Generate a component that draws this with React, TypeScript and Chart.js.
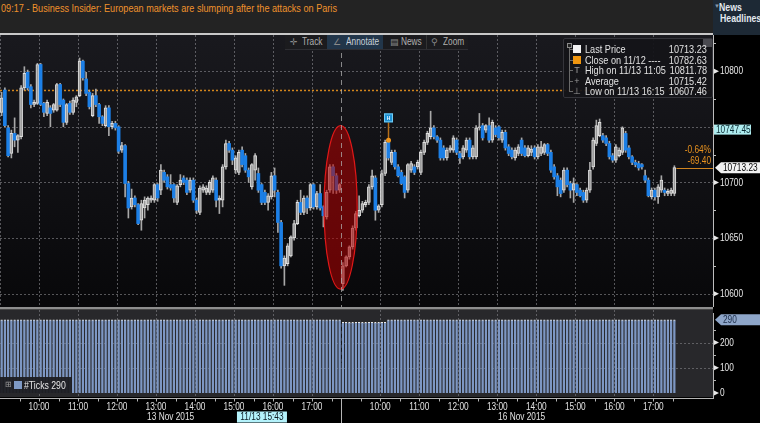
import React, { useEffect, useRef } from 'react';
import { Chart, registerables } from 'chart.js';

Chart.register(...registerables);

const FONT = '"Liberation Sans", Arial, sans-serif';
const NARROW = 0.83; // horizontal compression to mimic a narrow terminal font

// ---------------- data (5-minute candles) ----------------
const d1Open = [
  10763, 10783, 10749, 10726, 10744, 10738, 10741, 10785, 10799, 10786,
  10770, 10771, 10806, 10771, 10762, 10767, 10765, 10765, 10788, 10774,
  10754, 10771, 10763, 10772, 10778, 10809, 10793, 10781, 10760, 10778,
  10770, 10759, 10751, 10767, 10750, 10753, 10750, 10729, 10733, 10699,
  10678, 10686, 10680, 10666, 10677, 10680, 10684, 10684, 10698, 10693,
  10709, 10705, 10698, 10698, 10682, 10698, 10704, 10702, 10693, 10702,
  10684, 10673, 10693, 10691, 10691, 10693, 10702, 10684, 10684, 10714,
  10735, 10729, 10711, 10709, 10729, 10724, 10711, 10696, 10711, 10708,
  10698, 10691, 10682, 10687, 10706, 10691, 10664, 10625, 10627, 10634,
  10650, 10663, 10682, 10673, 10686, 10677, 10698, 10678, 10690, 10678,
  10669, 10693, 10714, 10706, 10693,
];
const d1High = [
  10781, 10785, 10751, 10747, 10758, 10743, 10787, 10804, 10801, 10788,
  10774, 10807, 10807, 10772, 10774, 10769, 10771, 10789, 10789, 10775,
  10771, 10773, 10776, 10778, 10811.78, 10810, 10799, 10783, 10780, 10784,
  10771, 10760, 10769, 10769, 10755, 10755, 10751, 10736, 10734, 10701,
  10694, 10688, 10681, 10684, 10687, 10687, 10688, 10699, 10699, 10716,
  10711, 10707, 10707, 10699, 10698, 10707, 10706, 10704, 10704, 10704,
  10686, 10697, 10698, 10697, 10702, 10706, 10704, 10688, 10716, 10738,
  10737, 10731, 10724, 10729, 10732, 10726, 10713, 10717, 10726, 10713,
  10699, 10693, 10690, 10709, 10713, 10693, 10666, 10634, 10645, 10652,
  10666, 10684, 10693, 10688, 10688, 10699, 10699, 10692, 10698, 10679,
  10693, 10716, 10716, 10708, 10699,
];
const d1Low = [
  10760, 10750, 10723, 10722, 10732, 10727, 10739, 10783, 10783, 10767,
  10768, 10770, 10769, 10759, 10760, 10750, 10763, 10764, 10768, 10750,
  10752, 10761, 10761, 10768, 10777, 10792, 10778, 10766, 10759, 10768,
  10753, 10751, 10750, 10742, 10748, 10747, 10726, 10727, 10687, 10668,
  10676, 10678, 10662, 10657, 10668, 10675, 10682, 10682, 10683, 10689,
  10700, 10694, 10693, 10682, 10680, 10696, 10698, 10689, 10691, 10682,
  10672, 10671, 10691, 10689, 10689, 10691, 10678, 10672, 10678, 10712,
  10727, 10716, 10708, 10707, 10714, 10709, 10700, 10694, 10702, 10691,
  10680, 10680, 10675, 10685, 10687, 10655, 10623, 10607.46, 10625, 10633,
  10648, 10662, 10671, 10671, 10672, 10675, 10676, 10676, 10675, 10660,
  10667, 10691, 10690, 10690, 10691,
];
const d1Close = [
  10776, 10751, 10724, 10744, 10738, 10742, 10785, 10798, 10785, 10770,
  10772, 10806, 10770, 10763, 10772, 10762, 10770, 10788, 10770, 10754,
  10770, 10763, 10774, 10777, 10809, 10794, 10780, 10768, 10778, 10770,
  10759, 10753, 10767, 10750, 10753, 10749, 10728, 10733, 10699, 10677,
  10686, 10680, 10663, 10681, 10684, 10686, 10686, 10698, 10686, 10711,
  10702, 10696, 10695, 10686, 10697, 10702, 10700, 10691, 10702, 10684,
  10675, 10695, 10696, 10695, 10700, 10704, 10684, 10686, 10714, 10735,
  10729, 10720, 10722, 10727, 10716, 10711, 10705, 10716, 10724, 10693,
  10682, 10682, 10688, 10706, 10693, 10664, 10625, 10632, 10643, 10651,
  10663, 10682, 10673, 10686, 10677, 10698, 10678, 10690, 10677, 10670,
  10691, 10714, 10706, 10693, 10698,
];

const d2Open = [
  10609, 10625, 10633, 10642, 10659, 10670, 10675, 10680, 10682, 10696,
  10704, 10675, 10680, 10708, 10736, 10718, 10727, 10714, 10709, 10705,
  10693, 10711, 10714, 10714, 10709, 10727, 10736, 10741, 10749, 10741,
  10738, 10731, 10722, 10729, 10729, 10738, 10726, 10723, 10729, 10738,
  10723, 10723, 10749, 10751, 10747, 10751, 10738, 10749, 10750, 10738,
  10745, 10732, 10729, 10722, 10726, 10738, 10731, 10724, 10727, 10731,
  10723, 10726, 10727, 10734, 10727, 10714, 10706, 10702, 10693, 10711,
  10699, 10693, 10698, 10693, 10691, 10684, 10693, 10714, 10735, 10742,
  10742, 10740, 10735, 10724, 10720, 10724, 10727, 10744, 10731, 10723,
  10718, 10717, 10716, 10706, 10702, 10687, 10693, 10687, 10693, 10693,
  10690, 10690, 10690,
];
const d2High = [
  10628, 10634, 10643, 10661, 10674, 10688, 10683, 10684, 10698, 10711,
  10706, 10680, 10711, 10738, 10738, 10729, 10729, 10716, 10711, 10706,
  10717, 10719, 10716, 10720, 10729, 10738, 10746, 10764, 10751, 10742,
  10740, 10733, 10731, 10733, 10742, 10740, 10728, 10733, 10740, 10740,
  10733, 10751, 10762, 10753, 10752, 10758, 10756, 10751, 10751, 10747,
  10747, 10734, 10731, 10731, 10734, 10740, 10733, 10733, 10733, 10733,
  10734, 10737, 10735, 10735, 10729, 10716, 10708, 10704, 10713, 10713,
  10701, 10704, 10699, 10695, 10693, 10695, 10718, 10740, 10756, 10757,
  10744, 10742, 10737, 10726, 10734, 10731, 10750, 10746, 10733, 10724,
  10720, 10719, 10717, 10711, 10704, 10695, 10695, 10698, 10706, 10695,
  10694, 10695, 10715,
];
const d2Low = [
  10603, 10624, 10631, 10640, 10657, 10669, 10673, 10678, 10680, 10694,
  10666, 10673, 10678, 10706, 10720, 10716, 10712, 10705, 10698, 10686,
  10691, 10709, 10707, 10712, 10707, 10725, 10734, 10739, 10739, 10736,
  10720, 10720, 10720, 10727, 10727, 10725, 10717, 10721, 10727, 10721,
  10721, 10721, 10747, 10738, 10745, 10736, 10736, 10741, 10738, 10736,
  10729, 10724, 10721, 10720, 10724, 10724, 10723, 10723, 10724, 10721,
  10721, 10724, 10725, 10724, 10709, 10703, 10688, 10687, 10691, 10696,
  10686, 10682, 10688, 10687, 10682, 10682, 10691, 10712, 10733, 10741,
  10736, 10733, 10721, 10718, 10718, 10723, 10725, 10727, 10721, 10716,
  10714, 10711, 10712, 10700, 10687, 10685, 10684, 10681, 10691, 10688,
  10688, 10688, 10688,
];
const d2Close = [
  10625, 10633, 10642, 10659, 10672, 10675, 10681, 10682, 10696, 10706,
  10675, 10679, 10708, 10736, 10722, 10727, 10714, 10706, 10699, 10691,
  10716, 10717, 10709, 10718, 10727, 10736, 10744, 10749, 10741, 10738,
  10722, 10722, 10729, 10731, 10740, 10727, 10722, 10731, 10738, 10723,
  10731, 10749, 10750, 10740, 10751, 10738, 10754, 10743, 10740, 10745,
  10731, 10726, 10723, 10729, 10732, 10726, 10724, 10731, 10730, 10723,
  10732, 10732, 10734, 10726, 10711, 10705, 10696, 10690, 10711, 10698,
  10693, 10699, 10691, 10688, 10684, 10693, 10711, 10738, 10751, 10754,
  10738, 10735, 10723, 10720, 10732, 10729, 10749, 10729, 10723, 10718,
  10716, 10713, 10714, 10702, 10688, 10693, 10687, 10696, 10702, 10691,
  10692, 10693, 10713.23,
];

// number of ticks per 5-minute bar
const d1Ticks = [
  290, 290, 290, 290, 290, 290, 290, 290, 290, 290, 290, 290, 290, 290, 290,
  290, 290, 290, 290, 290, 290, 290, 290, 290, 290, 290, 290, 290, 290, 290,
  290, 290, 290, 290, 290, 290, 290, 290, 290, 290, 290, 290, 290, 290, 290,
  290, 290, 290, 290, 290, 290, 290, 290, 290, 290, 290, 290, 290, 290, 290,
  290, 290, 290, 290, 290, 290, 290, 290, 290, 290, 290, 290, 290, 290, 290,
  290, 290, 290, 290, 290, 290, 290, 290, 290, 290, 290, 290, 290, 290, 290,
  290, 290, 290, 290, 290, 290, 290, 290, 290, 290, 290, 290, 290, 290, 290,
];
const d2Ticks = [
  280, 280, 280, 280, 280, 280, 280, 280, 280, 280, 280, 280, 280, 280, 290,
  290, 290, 290, 290, 290, 290, 290, 290, 290, 290, 290, 290, 290, 290, 290,
  290, 290, 290, 290, 290, 290, 290, 290, 290, 290, 290, 290, 290, 290, 290,
  290, 290, 290, 290, 290, 290, 290, 290, 290, 290, 290, 290, 290, 290, 290,
  290, 290, 290, 290, 290, 290, 290, 290, 290, 290, 290, 290, 290, 290, 290,
  290, 290, 290, 290, 290, 290, 290, 290, 290, 290, 290, 290, 290, 290, 290,
  290, 290, 290, 290, 290, 290, 290, 290, 290, 290, 290, 290, 290,
];

// ---------------- axis / labels ----------------
const SLOTS_PER_HOUR = 12;
const sessionStartSlots = [-0.5, 104.5]; // 09:00 of each trading day
const day2FirstSlot = 105;
const slotMin = -0.5;
const slotMax = 218.88;
const hourLabels = ['10:00', '11:00', '12:00', '13:00', '14:00', '15:00', '16:00', '17:00'];
const dateLabels = ['13 Nov 2015', '16 Nov 2015'];
const dateLabelSlots = [52, 160];
const crosshairLabel = '11/13 15:43';
const crosshairSlot = 80.1;

const priceMin = 10588;
const priceMax = 10832.5;
const priceGrid = [10600, 10650, 10700, 10750, 10800];
const priceLabels = [10600, 10650, 10700, 10800];
const priceMinor = [10600, 10625, 10650, 10675, 10700, 10725, 10750, 10775, 10800, 10825];
const prevClose = 10782.63;
const lastPrice = 10713.23;
const markerPrice = 10747.45;
const changePct = '-0.64%';
const changeAbs = '-69.40';

const tickMin = -16;
const tickMax = 329;
const tickLabels = [0, 100, 200];
const tickMinor = [50, 150, 250];
const lastTicks = 290;

const ellipseSlot = 104.3;
const ellipseHalfSlots = 5.1;
const ellipseTop = 10751;
const ellipseBottom = 10604;
const flagSlot = 119;
const flagTop = 10762;
const flagBottom = 10754;
const flagDot = 10738;

const headline = '09:17 - Business Insider: European markets are slumping after the attacks on Paris';
const legendLabels = ['Last Price', 'Close on 11/12 ----', 'High on 11/13 11:05', 'Average', 'Low on 11/13 16:15'];
const legendValues = ['10713.23', '10782.63', '10811.78', '10715.42', '10607.46'];
const ticksLegend = '#Ticks 290';
const toolbarItems = ['Track', 'Annotate', 'News', 'Zoom'];

// ---------------- helpers ----------------
type Candle = { s: number; o: number; h: number; l: number; c: number };

function buildCandles(): Candle[] {
  const out: Candle[] = [];
  d1Open.forEach((o, i) => out.push({ s: i, o, h: d1High[i], l: d1Low[i], c: d1Close[i] }));
  d2Open.forEach((o, i) => out.push({ s: day2FirstSlot + i, o, h: d2High[i], l: d2Low[i], c: d2Close[i] }));
  return out;
}

const hourSlots: number[] = [];
sessionStartSlots.forEach((s) => hourLabels.forEach((_, k) => hourSlots.push(s + SLOTS_PER_HOUR * (k + 1))));

function hline(ctx: any, x1: number, x2: number, y: number) {
  ctx.beginPath(); ctx.moveTo(x1, y); ctx.lineTo(x2, y); ctx.stroke();
}
function vline(ctx: any, x: number, y1: number, y2: number) {
  ctx.beginPath(); ctx.moveTo(x, y1); ctx.lineTo(x, y2); ctx.stroke();
}
function tri(ctx: any, x: number, y: number) {
  ctx.beginPath(); ctx.moveTo(x, y - 2.5); ctx.lineTo(x + 5, y); ctx.lineTo(x, y + 2.5); ctx.closePath(); ctx.fill();
}
function ntext(ctx: any, text: string, x: number, y: number, align: string) {
  ctx.save();
  ctx.translate(x, y);
  ctx.scale(NARROW, 1);
  ctx.textAlign = align;
  ctx.textBaseline = 'middle';
  ctx.fillText(text, 0, 0);
  ctx.restore();
}

const pricePlugin = {
  id: 'priceDeco',
  beforeDatasetsDraw(chart: any) {
    const { ctx, chartArea: a } = chart;
    const xs = chart.scales.x, ys = chart.scales.y;
    ctx.save();
    const g = ctx.createLinearGradient(0, a.top, 0, a.bottom);
    g.addColorStop(0, '#19191e');
    g.addColorStop(1, '#08080a');
    ctx.fillStyle = g;
    ctx.fillRect(a.left, a.top, a.right - a.left, a.bottom - a.top);
    ctx.lineWidth = 1;
    ctx.strokeStyle = 'rgba(150,150,155,0.55)';
    ctx.setLineDash([2, 2]);
    priceGrid.forEach((v) => hline(ctx, a.left, a.right, Math.round(ys.getPixelForValue(v)) + 0.5));
    [sessionStartSlots[0], ...hourSlots].forEach((s) => vline(ctx, Math.round(xs.getPixelForValue(s)) + 0.5, a.top, a.bottom));
    ctx.strokeStyle = '#d4861c';
    ctx.lineWidth = 1.5;
    hline(ctx, a.left, a.right, ys.getPixelForValue(prevClose));
    ctx.restore();
  },
  afterDatasetsDraw(chart: any) {
    const { ctx, chartArea: a } = chart;
    const xs = chart.scales.x, ys = chart.scales.y;
    ctx.save();
    // red ellipse
    const ex = xs.getPixelForValue(ellipseSlot);
    const erx = xs.getPixelForValue(ellipseSlot + ellipseHalfSlots) - ex;
    const et = ys.getPixelForValue(ellipseTop), eb = ys.getPixelForValue(ellipseBottom);
    ctx.beginPath();
    ctx.ellipse(ex, (et + eb) / 2, erx, (eb - et) / 2, 0, 0, Math.PI * 2);
    ctx.fillStyle = 'rgba(178,0,0,0.55)';
    ctx.fill();
    ctx.strokeStyle = '#e01818';
    ctx.lineWidth = 1.2;
    ctx.stroke();
    // session separator
    ctx.setLineDash([5, 4]);
    ctx.strokeStyle = 'rgba(175,175,175,0.75)';
    ctx.lineWidth = 1;
    vline(ctx, Math.round(xs.getPixelForValue(sessionStartSlots[1])) + 0.5, a.top, a.bottom);
    ctx.setLineDash([]);
    // flag
    const fx = Math.round(xs.getPixelForValue(flagSlot)) + 0.5;
    const ft = ys.getPixelForValue(flagTop), fb = ys.getPixelForValue(flagBottom), fd = ys.getPixelForValue(flagDot);
    ctx.strokeStyle = '#b56f1a';
    ctx.lineWidth = 1.5;
    vline(ctx, fx, fb, fd);
    ctx.fillStyle = '#f0961e';
    ctx.beginPath(); ctx.arc(fx, fd, 2.5, 0, Math.PI * 2); ctx.fill();
    ctx.fillStyle = '#1d8fd2';
    ctx.fillRect(fx - 4.5, ft, 9, fb - ft);
    ctx.strokeStyle = '#74cdf4';
    ctx.lineWidth = 1;
    ctx.strokeRect(fx - 4, ft + 0.5, 8, fb - ft - 1);
    ctx.fillStyle = '#e8f6ff';
    ctx.font = `bold 6px ${FONT}`;
    ntext(ctx, 'H', fx, (ft + fb) / 2 + 0.5, 'center');
    // last price line + change
    const ly = ys.getPixelForValue(lastPrice);
    const lastSlot = day2FirstSlot + d2Close.length - 1;
    ctx.strokeStyle = '#cf8420';
    hline(ctx, xs.getPixelForValue(lastSlot) + 2, a.right, Math.round(ly) + 0.5);
    ctx.fillStyle = '#e8921f';
    ctx.font = `10px ${FONT}`;
    ntext(ctx, changePct, a.right - 2, ly - 17, 'right');
    ntext(ctx, changeAbs, a.right - 2, ly - 6, 'right');
    // axis
    ctx.strokeStyle = '#bdbdbd';
    vline(ctx, a.right + 0.5, a.top, a.bottom);
    priceMinor.forEach((v) => hline(ctx, a.right, a.right + 3, Math.round(ys.getPixelForValue(v)) + 0.5));
    ctx.fillStyle = '#e8e8e8';
    priceLabels.forEach((v) => {
      const y = ys.getPixelForValue(v);
      tri(ctx, a.right + 1, y);
      ntext(ctx, String(v), a.right + 7, y + 0.5, 'left');
    });
    // marker label
    const my = ys.getPixelForValue(markerPrice);
    ctx.fillStyle = '#aeecef';
    ctx.fillRect(a.right + 1, my - 5, 37, 10);
    ctx.fillStyle = '#0b2b33';
    ntext(ctx, markerPrice.toFixed(2), a.right + 3, my + 0.5, 'left');
    // last price label
    ctx.fillStyle = '#f2f2f2';
    ctx.beginPath();
    ctx.moveTo(a.right + 2, ly);
    ctx.lineTo(a.right + 8, ly - 5.5);
    ctx.lineTo(chart.width, ly - 5.5);
    ctx.lineTo(chart.width, ly + 5.5);
    ctx.lineTo(a.right + 8, ly + 5.5);
    ctx.closePath();
    ctx.fill();
    ctx.fillStyle = '#000';
    ntext(ctx, lastPrice.toFixed(2), a.right + 10, ly + 0.5, 'left');
    ctx.restore();
  },
};

const ticksPlugin = {
  id: 'ticksDeco',
  beforeDatasetsDraw(chart: any) {
    const { ctx, chartArea: a } = chart;
    const xs = chart.scales.x, ys = chart.scales.y;
    ctx.save();
    ctx.fillStyle = '#8e8e8e';
    ctx.fillRect(0, 0, a.right, 2.5);
    ctx.fillStyle = '#28282b';
    ctx.fillRect(a.left, a.top, a.right - a.left, a.bottom - a.top);
    ctx.lineWidth = 1;
    ctx.strokeStyle = 'rgba(150,150,155,0.5)';
    ctx.setLineDash([2, 2]);
    tickLabels.slice(1).forEach((v) => hline(ctx, a.left, a.right, Math.round(ys.getPixelForValue(v)) + 0.5));
    hourSlots.forEach((s) => vline(ctx, Math.round(xs.getPixelForValue(s)) + 0.5, a.top, a.bottom));
    ctx.restore();
  },
  afterDatasetsDraw(chart: any) {
    const { ctx, chartArea: a } = chart;
    const xs = chart.scales.x, ys = chart.scales.y;
    ctx.save();
    ctx.lineWidth = 1;
    // separator over bars
    const sx = Math.round(xs.getPixelForValue(sessionStartSlots[1])) + 0.5;
    ctx.setLineDash([4, 3]);
    ctx.strokeStyle = '#151515';
    vline(ctx, sx, ys.getPixelForValue(lastTicks), ys.getPixelForValue(120));
    ctx.setLineDash([]);
    // axis bottom line
    const axisY = a.bottom + 1.5;
    ctx.strokeStyle = '#b4b4b4';
    hline(ctx, 0, a.right + 1, axisY);
    vline(ctx, a.right + 0.5, a.top + 3, axisY);
    vline(ctx, sx, axisY, chart.height);
    // small time ticks every half hour
    sessionStartSlots.forEach((s) => {
      for (let k = 1; k <= 17; k++) {
        const px = Math.round(xs.getPixelForValue(s + k * SLOTS_PER_HOUR / 2)) + 0.5;
        vline(ctx, px, axisY, axisY + 3);
      }
    });
    ctx.font = `10px ${FONT}`;
    ctx.fillStyle = '#e2e2e2';
    hourSlots.forEach((s, i) => ntext(ctx, hourLabels[i % hourLabels.length], xs.getPixelForValue(s), axisY + 9, 'center'));
    dateLabels.forEach((d, i) => ntext(ctx, d, xs.getPixelForValue(dateLabelSlots[i]), axisY + 19, 'center'));
    // crosshair label
    const cx = xs.getPixelForValue(crosshairSlot);
    ctx.fillStyle = '#b4f2fb';
    ctx.fillRect(cx - 25, axisY + 13, 50, 11);
    ctx.fillStyle = '#0c1a22';
    ntext(ctx, crosshairLabel, cx, axisY + 19, 'center');
    // y axis labels
    ctx.fillStyle = '#e8e8e8';
    ctx.strokeStyle = '#b4b4b4';
    tickMinor.forEach((v) => hline(ctx, a.right, a.right + 3, Math.round(ys.getPixelForValue(v)) + 0.5));
    tickLabels.forEach((v) => {
      const y = ys.getPixelForValue(v);
      tri(ctx, a.right + 1, y);
      ntext(ctx, String(v), a.right + 7, y + 0.5, 'left');
    });
    const ty = ys.getPixelForValue(lastTicks);
    ctx.fillStyle = '#8ea6c9';
    ctx.beginPath();
    ctx.moveTo(a.right + 2, ty);
    ctx.lineTo(a.right + 8, ty - 5.5);
    ctx.lineTo(chart.width, ty - 5.5);
    ctx.lineTo(chart.width, ty + 5.5);
    ctx.lineTo(a.right + 8, ty + 5.5);
    ctx.closePath();
    ctx.fill();
    ctx.fillStyle = '#1b2c48';
    ntext(ctx, String(lastTicks), a.right + 10, ty + 0.5, 'left');
    ctx.restore();
  },
};

const narrowStyle = (origin: string) => ({
  display: 'inline-block', transform: `scaleX(${NARROW})`, transformOrigin: origin, whiteSpace: 'nowrap' as const,
});

export default function App() {
  const priceRef = useRef<HTMLCanvasElement | null>(null);
  const ticksRef = useRef<HTMLCanvasElement | null>(null);

  useEffect(() => {
    document.body.style.margin = '0';
    document.body.style.background = '#000';
    const candles = buildCandles();
    const isUp = (c: Candle) => c.c >= c.o;
    const common: any = {
      animation: false,
      responsive: false,
      events: [],
      plugins: { legend: { display: false }, tooltip: { enabled: false } },
    };
    const priceChart = new Chart(priceRef.current as HTMLCanvasElement, {
      type: 'bar',
      data: {
        datasets: [
          {
            label: 'body',
            data: candles.map((c) => ({ x: c.s, y: [c.o, c.c] })) as any,
            backgroundColor: candles.map((c) => (isUp(c) ? '#9b9b9b' : '#1c7fe6')),
            borderColor: candles.map((c) => (isUp(c) ? '#e0e0e0' : '#1c7fe6')),
            borderWidth: candles.map((c) => (isUp(c) ? 1 : 0)),
            borderSkipped: false,
            barThickness: 3,
            grouped: false,
          } as any,
          {
            label: 'wick',
            data: candles.map((c) => ({ x: c.s, y: [c.l, c.h] })) as any,
            backgroundColor: '#a8a8a8',
            borderWidth: 0,
            barThickness: 1,
            grouped: false,
          } as any,
        ],
      },
      options: {
        ...common,
        layout: { padding: { left: 0, right: 47, top: 0, bottom: 0 } },
        scales: {
          x: { type: 'linear', min: slotMin, max: slotMax, offset: false, display: false },
          y: { type: 'linear', min: priceMin, max: priceMax, beginAtZero: false, display: false },
        },
      },
      plugins: [pricePlugin],
    });

    const allTicks = [
      ...d1Ticks.map((v, i) => ({ x: i, y: v })),
      ...d2Ticks.map((v, i) => ({ x: day2FirstSlot + i, y: v })),
    ];
    const ticksChart = new Chart(ticksRef.current as HTMLCanvasElement, {
      type: 'bar',
      data: {
        datasets: [
          {
            label: '#Ticks',
            data: allTicks as any,
            backgroundColor: '#7d97c3',
            borderColor: '#e6e6e6',
            borderWidth: { top: 1, right: 0, bottom: 0, left: 0 },
            borderSkipped: 'start',
            barThickness: 2.3,
            grouped: false,
          } as any,
        ],
      },
      options: {
        ...common,
        layout: { padding: { left: 0, right: 47, top: 3, bottom: 26 } },
        scales: {
          x: { type: 'linear', min: slotMin, max: slotMax, offset: false, display: false },
          y: { type: 'linear', min: tickMin, max: tickMax, beginAtZero: false, display: false },
        },
      },
      plugins: [ticksPlugin],
    });
    return () => {
      priceChart.destroy();
      ticksChart.destroy();
    };
  }, []);

  const abs = (l: number, t: number, w: number, h: number, extra: any = {}) => ({
    position: 'absolute' as const, left: l, top: t, width: w, height: h, ...extra,
  });
  const legendIcon = (i: number) => {
    if (i === 0) return <span style={abs(0, 1, 8, 8, { background: '#f4f4f4' })} />;
    if (i === 1) return <span style={abs(0, 1, 8, 8, { background: '#f0960f' })} />;
    const glyph = ['', '', 'T', '+', '\u22a5'][i];
    return <span style={abs(0, 0, 8, 10, { color: '#9a9a9a', fontSize: 9, textAlign: 'center', lineHeight: '10px' })}>{glyph}</span>;
  };
  const toolbarX = [17, 61, 116, 158];
  const iconX = [5, 48, 105, 146];
  const icons = ['\u271b', '\u2220', '\u25a4', '\u26b2'];

  return (
    <div style={{ position: 'relative', width: 760, height: 423, background: '#000', overflow: 'hidden', fontFamily: FONT }}>
      <div style={abs(0, 0, 713, 33, { background: '#232323' })}>
        <div style={{ position: 'absolute', left: 1, top: 2, fontSize: 11, color: '#ef922c', lineHeight: '13px' }}>
          <span style={narrowStyle('left center')}>{headline}</span>
        </div>
      </div>
      <div style={abs(0, 33, 713, 2, { background: '#c8c8c8' })} />
      <div style={abs(713, 0, 47, 35, { background: '#1d2935' })}>
        <div style={{ position: 'absolute', left: 1, top: 3, fontSize: 6, color: '#8a98a8' }}>{'\u25bc'}</div>
        <div style={{ position: 'absolute', left: 6, top: 1, fontSize: 10.5, color: '#e4eaf0', fontWeight: 700, lineHeight: '12px' }}>
          <span style={narrowStyle('left center')}>News</span>
        </div>
        <div style={{ position: 'absolute', left: 7, top: 12, fontSize: 10.5, color: '#e4eaf0', fontWeight: 700, lineHeight: '12px' }}>
          <span style={narrowStyle('left center')}>Headlines</span>
        </div>
      </div>

      <canvas ref={priceRef} width={760} height={272} style={abs(0, 35, 760, 272)} />
      <canvas ref={ticksRef} width={760} height={116} style={abs(0, 307, 760, 116)} />

      {/* toolbar */}
      <div style={abs(285, 35, 183, 14, { background: '#1b1b1e', borderBottom: '1px solid #2e2e33', color: '#b0b0b0', fontSize: 10, lineHeight: '14px' })}>
        <span style={abs(42, 0, 56, 14, { background: '#22364a' })} />
        <span style={abs(141, 0, 1, 14, { background: '#333' })} />
        {toolbarItems.map((t, i) => (
          <React.Fragment key={t}>
            <span style={abs(iconX[i], 0, 10, 14, { color: '#8a8a8a', fontSize: 9, fontFamily: 'DejaVu Sans' })}>{icons[i]}</span>
            <span style={abs(toolbarX[i], 0, 40, 14, { color: i === 1 ? '#c8d0d8' : '#b0b0b0' })}>
              <span style={narrowStyle('left center')}>{t}</span>
            </span>
          </React.Fragment>
        ))}
      </div>

      {/* legend */}
      <div style={abs(563, 38, 150, 60, { background: 'rgba(20,20,24,0.94)', border: '1px solid #34343a', borderRadius: 2, boxSizing: 'border-box', color: '#e2e2e2', fontSize: 11 })}>
        <span style={abs(5, 8, 1, 45, { background: '#6a6a6a' })} />
        <span style={abs(3, 4, 5, 5, { border: '1px solid #8a8a8a', boxSizing: 'border-box', background: '#222' })} />
        <span style={abs(139, 0, 9, 8, { background: '#4a4a50' })} />
        {legendLabels.map((lab, i) => (
          <div key={lab} style={abs(0, 5 + i * 10.5, 148, 11, { lineHeight: '11px' })}>
            <span style={abs(6, 5, 3, 1, { background: '#6a6a6a' })} />
            <span style={abs(9, 0, 8, 10)}>{legendIcon(i)}</span>
            <span style={abs(21, 0, 90, 11)}>
              <span style={narrowStyle('left center')}>{lab}</span>
            </span>
            <span style={abs(93, 0, 50, 11, { textAlign: 'right' })}>
              <span style={narrowStyle('right center')}>{legendValues[i]}</span>
            </span>
          </div>
        ))}
      </div>

      {/* ticks legend */}
      <div style={abs(0, 377, 72, 16, { background: 'rgba(30,30,34,0.95)', color: '#e6e6e6', fontSize: 10.5, lineHeight: '16px' })}>
        <span style={abs(5, 0, 8, 16, { color: '#999', fontSize: 8 })}>{'\u229e'}</span>
        <span style={abs(14, 4, 8, 8, { background: '#7f9ac6' })} />
        <span style={abs(24, 0, 48, 16)}>
          <span style={narrowStyle('left center')}>{ticksLegend}</span>
        </span>
      </div>
    </div>
  );
}
